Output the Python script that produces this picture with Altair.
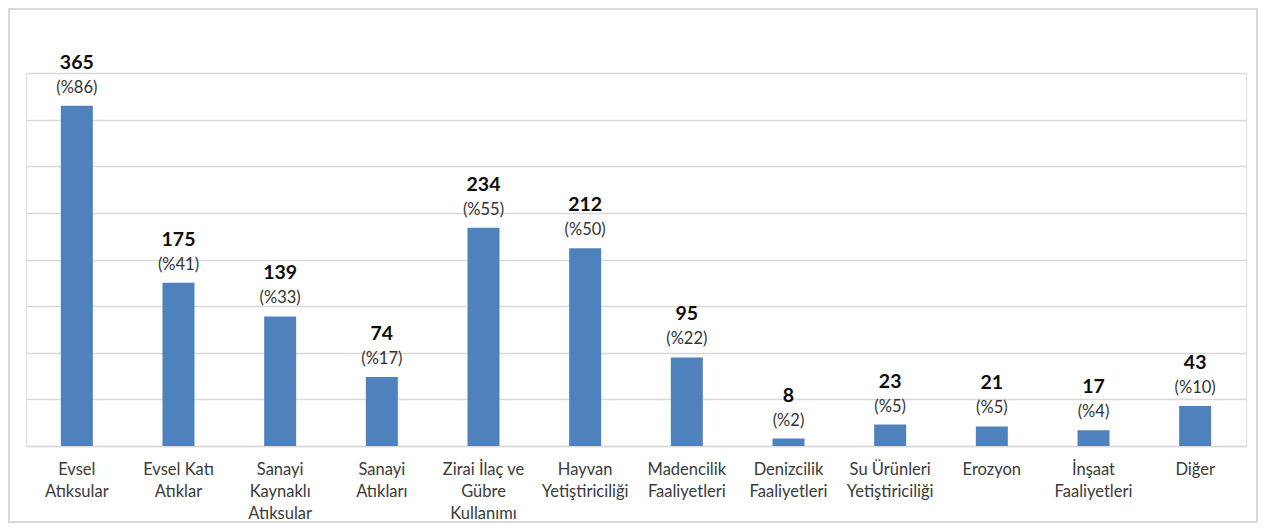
import altair as alt
import pandas as pd

categories = ["Evsel Atıksular", "Evsel Katı Atıklar", "Sanayi Kaynaklı Atıksular",
              "Sanayi Atıkları", "Zirai İlaç ve Gübre Kullanımı", "Hayvan Yetiştiriciliği",
              "Madencilik Faaliyetleri", "Denizcilik Faaliyetleri", "Su Ürünleri Yetiştiriciliği",
              "Erozyon", "İnşaat Faaliyetleri", "Diğer"]
wrapped = ["Evsel|Atıksular", "Evsel Katı|Atıklar", "Sanayi|Kaynaklı|Atıksular",
           "Sanayi|Atıkları", "Zirai İlaç ve|Gübre|Kullanımı", "Hayvan|Yetiştiriciliği",
           "Madencilik|Faaliyetleri", "Denizcilik|Faaliyetleri", "Su Ürünleri|Yetiştiriciliği",
           "Erozyon", "İnşaat|Faaliyetleri", "Diğer"]
values = [365, 175, 139, 74, 234, 212, 95, 8, 23, 21, 17, 43]
percents = [86, 41, 33, 17, 55, 50, 22, 2, 5, 5, 4, 10]

df = pd.DataFrame({
    "cat": categories,
    "wrap": wrapped,
    "value": values,
    "pct": [f"(%{p})" for p in percents],
})

FONT = "Lato"
W, H = 1220, 373

mapping = "{" + ",".join(f"'{c}':'{w}'" for c, w in zip(categories, wrapped)) + "}"
x = alt.X("cat:N", sort=categories, title=None,
          scale=alt.Scale(paddingInner=0.0, paddingOuter=0.0),
          axis=alt.Axis(labelExpr=f"split({mapping}[datum.label], '|')",
                        labelAngle=0, labelFontSize=16.5, labelFont=FONT, labelColor="#3a3a3a",
                        labelLineHeight=22, labelPadding=15, ticks=False, domain=True,
                        domainColor="#d9d9d9", domainWidth=1.5, labelBaseline="top"))

y = alt.Y("value:Q", title=None,
          scale=alt.Scale(domain=[0, 400], nice=False),
          axis=alt.Axis(values=list(range(0, 401, 50)), labels=False, ticks=False,
                        domain=False, grid=True, gridColor="#d9d9d9", gridWidth=1.5))

base = alt.Chart(df)

bars = base.mark_bar(size=32, color="#4F81BD").encode(x=x, y=y)

val_text = base.mark_text(dy=-43, fontSize=19.5, fontWeight="bold", font=FONT,
                          color="#0d0d0d", baseline="middle").encode(
    x=alt.X("cat:N", sort=categories), y="value:Q", text="value:Q")

pct_text = base.mark_text(dy=-18, fontSize=16.5, font=FONT,
                          color="#333333", baseline="middle").encode(
    x=alt.X("cat:N", sort=categories), y="value:Q", text="pct:N")

frame = alt.Chart(pd.DataFrame({"a": [0]})).mark_rect(
    fill=None, stroke="#d9d9d9", strokeWidth=2, clip=False).encode(
    x=alt.value(-17), x2=alt.value(1231), y=alt.value(-64), y2=alt.value(449))

chart = alt.layer(frame, bars, val_text, pct_text).properties(
    width=W, height=H,
    autosize=alt.AutoSizeParams(type="none"),
    padding={"left": 18, "top": 65, "right": 13, "bottom": 78},
).configure_view(stroke=None).configure(background="white")

chart.save("out.html", embed_options={"renderer": "svg", "actions": False})
